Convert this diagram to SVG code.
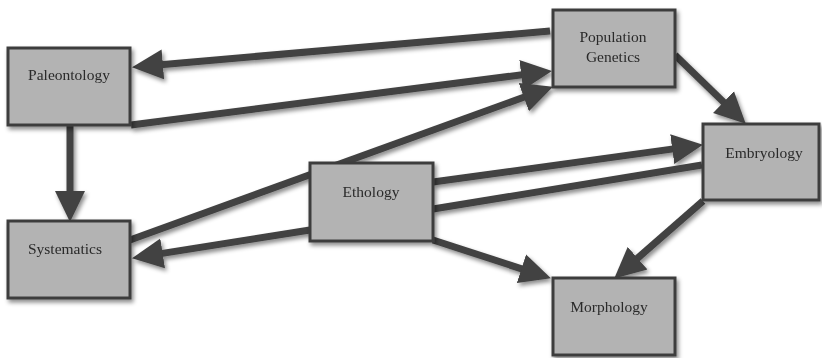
<svg xmlns="http://www.w3.org/2000/svg" width="822" height="358" viewBox="0 0 822 358">
<defs>
<filter id="sh" x="-20%" y="-20%" width="140%" height="150%">
<feDropShadow dx="2" dy="3" stdDeviation="2" flood-color="#000" flood-opacity="0.45"/>
</filter>
<marker id="ah" markerUnits="userSpaceOnUse" markerWidth="32" markerHeight="32" refX="5" refY="16" orient="auto">
<path d="M0,1 L31,16 L0,31 Z" fill="#424242"/>
</marker>
<style>
.box{fill:#b3b3b3;stroke:#3e3e3e;stroke-width:3}
.lbl{font-family:"Liberation Serif","DejaVu Serif",serif;font-size:15.5px;fill:#2a2a2a;text-anchor:middle}
.c{stroke:#424242;stroke-width:7;fill:none}
.a{marker-end:url(#ah)}
</style>
</defs>
<rect width="822" height="358" fill="#fff"/>
<g id="connectors" filter="url(#sh)">
<line class="c a" x1="550" y1="31" x2="157.9" y2="64.9"/>
<line class="c a" x1="131" y1="125" x2="526.2" y2="74.2"/>
<line class="c a" x1="130" y1="240" x2="528.5" y2="95.5"/>
<line class="c a" x1="310" y1="230" x2="157.7" y2="254.1"/>
<line class="c a" x1="433" y1="182" x2="677.2" y2="148.4"/>
<line class="c" x1="702" y1="165" x2="433" y2="209"/>
<line class="c a" x1="433" y1="240" x2="526.2" y2="270.3"/>
<line class="c a" x1="703" y1="201" x2="633.8" y2="261.5"/>
<line class="c a" x1="675" y1="55" x2="727.1" y2="105.6"/>
<line class="c a" x1="70" y1="126" x2="70" y2="196"/>
</g>
<g id="paleontology" filter="url(#sh)">
<rect class="box" x="8" y="48" width="122" height="77"/>
<text class="lbl" x="69" y="80">Paleontology</text>
</g>
<g id="population-genetics" filter="url(#sh)">
<rect class="box" x="553" y="10" width="122" height="77"/>
<text class="lbl" x="613" y="42">Population</text>
<text class="lbl" x="613" y="62">Genetics</text>
</g>
<g id="embryology" filter="url(#sh)">
<rect class="box" x="703" y="124" width="116" height="76"/>
<text class="lbl" x="764" y="158">Embryology</text>
</g>
<g id="systematics" filter="url(#sh)">
<rect class="box" x="8" y="221" width="122" height="77"/>
<text class="lbl" x="65" y="254">Systematics</text>
</g>
<g id="ethology" filter="url(#sh)">
<rect class="box" x="310" y="163" width="123" height="78"/>
<text class="lbl" x="371" y="197">Ethology</text>
</g>
<g id="morphology" filter="url(#sh)">
<rect class="box" x="553" y="278" width="122" height="77"/>
<text class="lbl" x="609" y="312">Morphology</text>
</g>
</svg>
